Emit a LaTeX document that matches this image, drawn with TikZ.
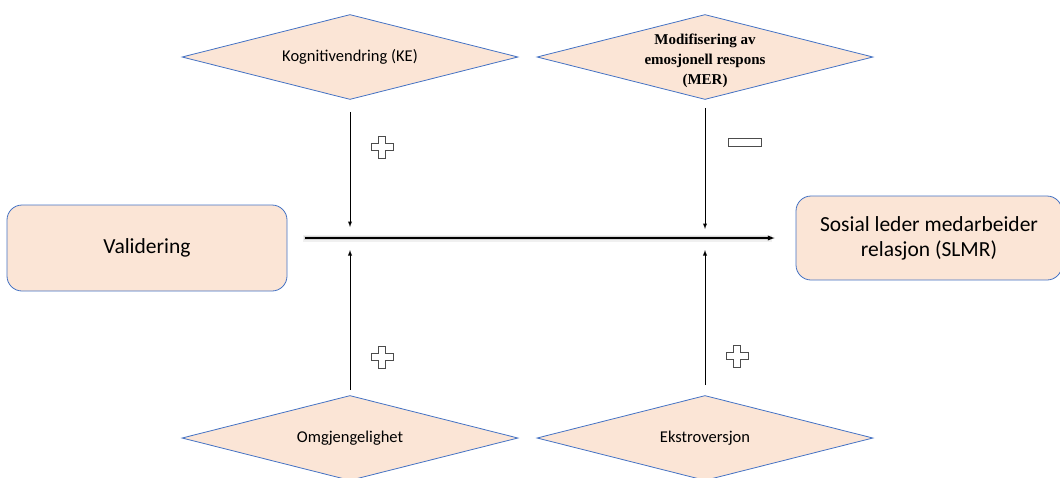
\documentclass[tikz,border=0pt]{standalone}
\usepackage{fontspec}
\setmainfont{Carlito}
\newfontfamily\serifbold{Liberation Serif}
\usepackage{xcolor}
\usetikzlibrary{shapes.geometric, positioning}

\definecolor{peach}{HTML}{FBE5D6}
\definecolor{edgeblue}{HTML}{4472C4}

\tikzset{
    factor/.style={diamond, draw=edgeblue, fill=peach, line width=0.8pt, inner sep=-14pt,
        shape aspect=4, minimum width=336pt, minimum height=85pt, align=center,
        font=\fontsize{16.5}{20}\selectfont},
    block/.style={rectangle, rounded corners=15pt, draw=edgeblue, fill=peach, line width=0.8pt,
        align=center, font=\fontsize{21.5}{25}\selectfont},
    link/.style={->, >=latex, line width=0.9pt},
    plussign/.pic={
        \draw[line width=0.9pt, black!70, fill=white]
            (-3.5,-11) -- (3.5,-11) -- (3.5,-3.5) -- (11,-3.5) -- (11,3.5) -- (3.5,3.5)
            -- (3.5,11) -- (-3.5,11) -- (-3.5,3.5) -- (-11,3.5) -- (-11,-3.5) -- (-3.5,-3.5) -- cycle;
    },
    minussign/.pic={
        \draw[line width=0.9pt, black!70, fill=white] (-16.5,-4) rectangle (16.5,4);
    }
}

\begin{document}
\begin{tikzpicture}[x=1pt, y=-1pt, node distance=355pt, on grid]
    \useasboundingbox (0,0) rectangle (1060,477);

    \node[factor] (ke) at (350,57) {Kognitivendring (KE)};
    \node[factor, font=\serifbold\bfseries\fontsize{15}{20}\selectfont] (mer) [right=of ke]
        {\rule{0pt}{19pt}Modifisering av\\emosjonell respons\\(MER)};
    \node[factor] (omg) [below=381pt of ke] {Omgjengelighet};
    \node[factor] (eks) [right=of omg] {Ekstroversjon};

    \node[block, minimum width=280pt, minimum height=86pt] (val) at (147,248) {Validering};
    \node[block, minimum width=266pt, minimum height=84pt] (slmr) at (929,238)
        {Sosial leder medarbeider\\relasjon (SLMR)};

    % main effect
    \draw[link, line width=1.3pt, shorten <=18pt, shorten >=21pt,
        preaction={draw, -, line width=7pt, black!6, shorten <=16pt, shorten >=24pt},
        preaction={draw, -, line width=4pt, black!16, shorten <=17pt, shorten >=24pt}]
        (val.east |- slmr.west) -- (slmr.west);

    % moderators
    \draw[link, shorten <=12pt, shorten >=11pt] (ke.south) -- (ke.south |- slmr.west);
    \draw[link, shorten <=8pt, shorten >=9pt] (mer.south) -- (mer.south |- slmr.west);
    \draw[link, shorten <=5pt, shorten >=12pt] (omg.north) -- (omg.north |- slmr.west);
    \draw[link, shorten <=10pt, shorten >=12pt] (eks.north) -- (eks.north |- slmr.west);

    \pic at (382,147) {plussign};
    \pic at (745,142) {minussign};
    \pic at (382,357) {plussign};
    \pic at (737,356) {plussign};
\end{tikzpicture}
\end{document}
